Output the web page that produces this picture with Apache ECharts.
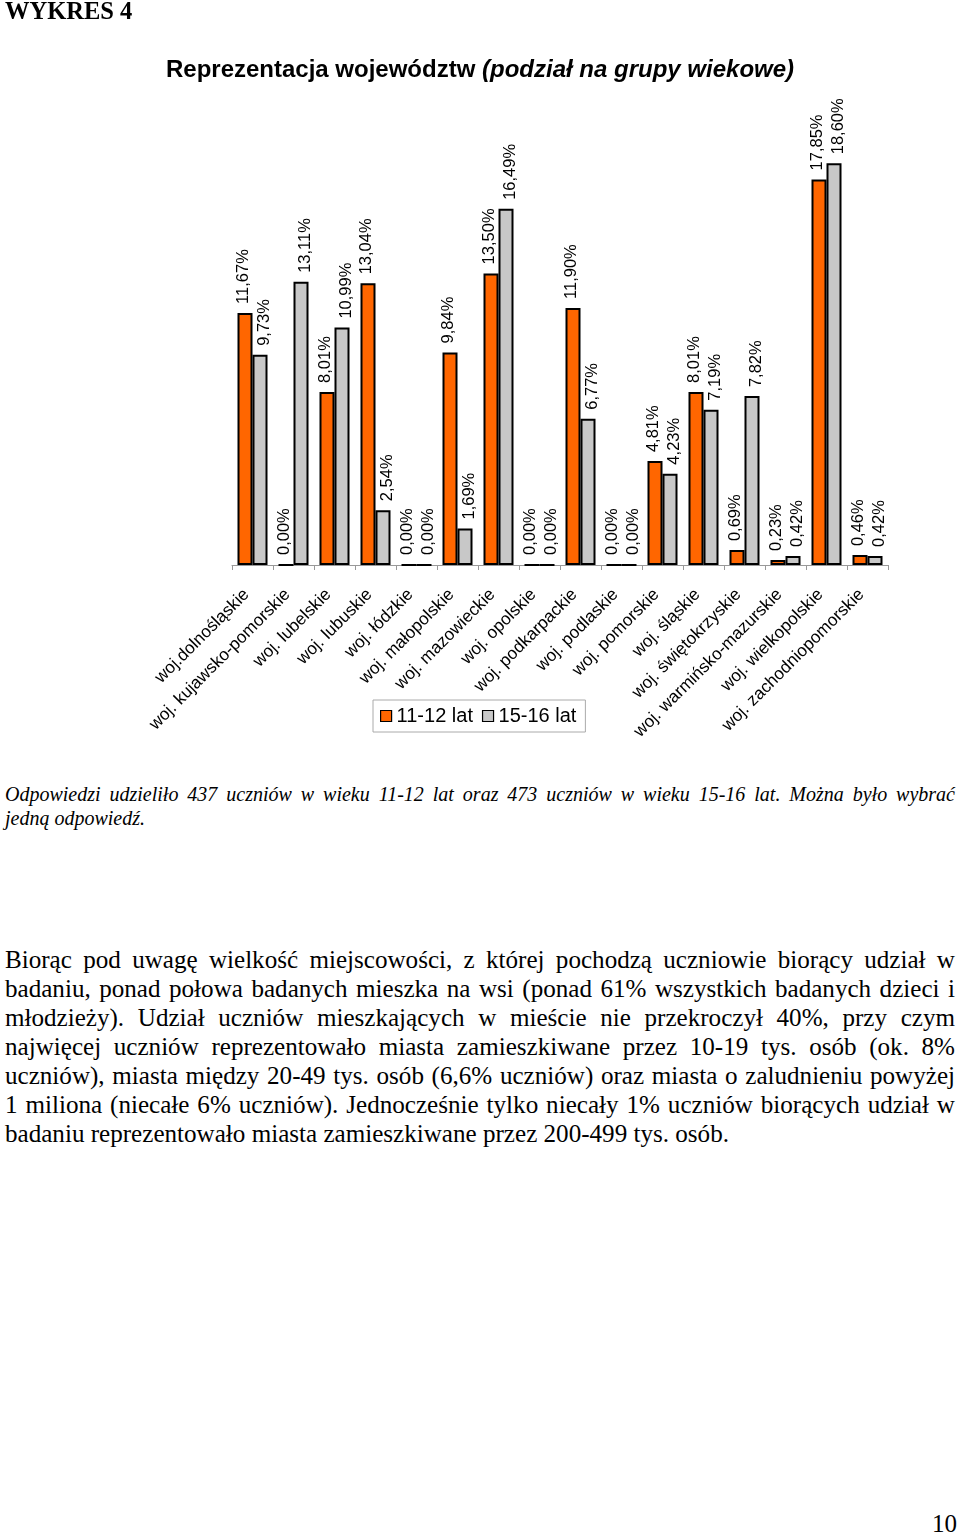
<!DOCTYPE html>
<html><head><meta charset="utf-8">
<script src="https://cdn.jsdelivr.net/npm/echarts@6/dist/echarts.min.js"></script>
<style>
body{margin:0;background:#fff;}
#page{position:relative;width:960px;height:1537px;overflow:hidden;background:#fff;}
#chart{position:absolute;left:0;top:0;width:960px;height:760px;}
.t{position:absolute;font-family:"Liberation Serif","Times New Roman",serif;color:#000;white-space:nowrap;margin:0;}
.ln{display:block;width:950px;text-align:justify;text-align-last:justify;white-space:nowrap;}
.ln.last{text-align-last:left;}
</style></head>
<body>
<div id="page">
<div id="chart"></div>
<div class="t" style="left:5px;top:-3px;font-size:24.5px;font-weight:bold;">WYKRES 4</div>
<div class="t" style="left:5px;top:782px;font-size:20px;font-style:italic;line-height:24px;">
<span class="ln">Odpowiedzi udzieliło 437 uczniów w wieku 11-12 lat oraz 473 uczniów w wieku 15-16 lat. Można było wybrać</span>
<span class="ln last">jedną odpowiedź.</span>
</div>
<div class="t" style="left:5px;top:945px;font-size:25.1px;line-height:29px;">
<span class="ln">Biorąc pod uwagę wielkość miejscowości, z której pochodzą uczniowie biorący udział w</span>
<span class="ln">badaniu, ponad połowa badanych mieszka na wsi (ponad 61% wszystkich badanych dzieci i</span>
<span class="ln">młodzieży). Udział uczniów mieszkających w mieście nie przekroczył 40%, przy czym</span>
<span class="ln">najwięcej uczniów reprezentowało miasta zamieszkiwane przez 10-19 tys. osób (ok. 8%</span>
<span class="ln">uczniów), miasta między 20-49 tys. osób (6,6% uczniów) oraz miasta o zaludnieniu powyżej</span>
<span class="ln">1 miliona (niecałe 6% uczniów). Jednocześnie tylko niecały 1% uczniów biorących udział w</span>
<span class="ln last">badaniu reprezentowało miasta zamieszkiwane przez 200-499 tys. osób.</span>
</div>
<div class="t" style="left:932px;top:1510px;font-size:25px;">10</div>
</div>
<script>
const categories = ['woj.dolnośląskie','woj. kujawsko-pomorskie','woj. lubelskie','woj. lubuskie','woj. łódzkie','woj. małopolskie','woj. mazowieckie','woj. opolskie','woj. podkarpackie','woj. podlaskie','woj. pomorskie','woj. śląskie','woj. świętokrzyskie','woj. warmińsko-mazurskie','woj. wielkopolskie','woj. zachodniopomorskie'];
const seriesNames = ['11-12 lat','15-16 lat'];
const age1112 = [11.67,0.00,8.01,13.04,0.00,9.84,13.50,0.00,11.90,0.00,4.81,8.01,0.69,0.23,17.85,0.46];
const age1516 = [9.73,13.11,10.99,2.54,0.00,1.69,16.49,0.00,6.77,0.00,4.23,7.19,7.82,0.42,18.60,0.42];
const titleMain = 'Reprezentacja województw';
const titleSub = '(podział na grupy wiekowe)';

const FF = 'Liberation Sans, Arial, sans-serif';
const fmt = p => p.value.toFixed(2).replace('.', ',') + '%';
function lab(shift){
  return {show:true, position:'top', rotate:90, align:'left', verticalAlign:'middle', distance:9,
    offset:[0, shift], fontSize:16.5, color:'#000', fontFamily:FF, formatter:fmt};
}
function mk(name, data, color, shift){
  return {type:'bar', name, data, barWidth:15, barGap:'0%',
    itemStyle:{color, borderColor:'#000', borderWidth:2},
    label:lab(shift), emphasis:{disabled:true}, animation:false};
}
const chart = echarts.init(document.getElementById('chart'));
chart.setOption({
  animation:false,
  textStyle:{fontFamily:FF},
  title:{text:'{a|' + titleMain + ' }{b|' + titleSub + '}', left:'center', top:53,
    textStyle:{rich:{a:{fontSize:24, fontWeight:'bold', color:'#000', fontFamily:FF},
                     b:{fontSize:24, fontWeight:'bold', fontStyle:'italic', color:'#000', fontFamily:FF}}}},
  legend:{left:373, top:700, itemWidth:11, itemHeight:11, itemGap:9, icon:'rect',
    borderColor:'#aaa', borderWidth:1, padding:[6,9,6,7],
    itemStyle:{borderWidth:1.2},
    textStyle:{fontSize:20, color:'#000', fontFamily:FF},
    data:seriesNames},
  grid:{left:232, right:72, top:133, bottom:195, containLabel:false},
  xAxis:{type:'category', data:categories,
    axisLine:{lineStyle:{color:'#999', width:1}},
    axisTick:{show:true, length:5, lineStyle:{color:'#999'}},
    axisLabel:{rotate:45, interval:0, fontSize:17.2, color:'#000', margin:33, verticalAlign:'bottom', fontFamily:FF}},
  yAxis:{type:'value', min:0, max:20, show:false},
  series:[mk(seriesNames[0], age1112, '#FF6600', -2), mk(seriesNames[1], age1516, '#C8C8C8', 4)]
});
</script>
</body></html>
